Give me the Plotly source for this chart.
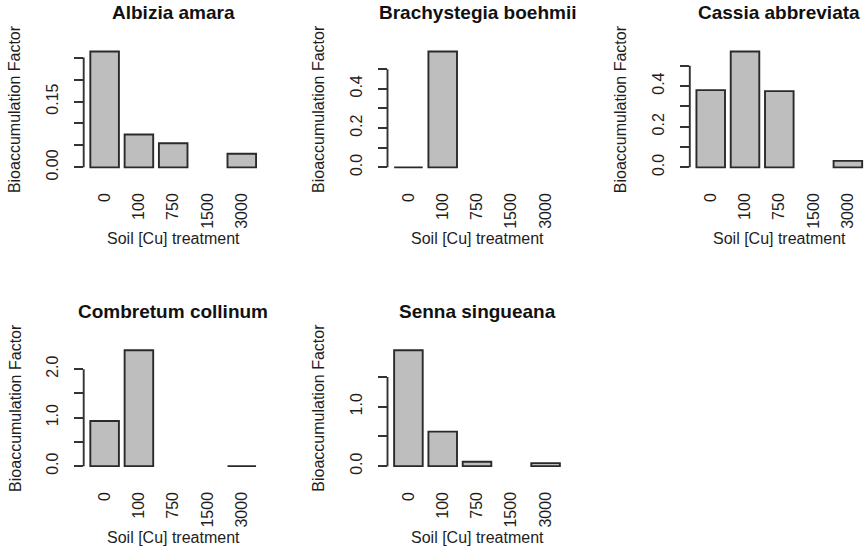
import plotly.graph_objects as go

W, H = 868, 560

# ---------------- data ----------------
treatments = ["0", "100", "750", "1500", "3000"]
species = ["Albizia amara", "Brachystegia boehmii", "Cassia abbreviata",
           "Combretum collinum", "Senna singueana"]

albizia = [0.264, 0.075, 0.055, None, 0.031]
brachystegia = [0.0, 0.59, None, None, None]
cassia = [0.38, 0.57, 0.375, None, 0.032]
combretum = [0.93, 2.39, None, None, 0.0]
senna = [1.95, 0.58, 0.073, None, 0.05]

tick_vals_albizia = [0, 0.05, 0.10, 0.15, 0.20, 0.25]
tick_text_albizia = ["0.00", "", "", "0.15", "", ""]
tick_vals_brachystegia = [0, 0.1, 0.2, 0.3, 0.4, 0.5]
tick_text_brachystegia = ["0.0", "", "0.2", "", "0.4", ""]
tick_vals_cassia = [0, 0.1, 0.2, 0.3, 0.4, 0.5]
tick_text_cassia = ["0.0", "", "0.2", "", "0.4", ""]
tick_vals_combretum = [0, 0.5, 1.0, 1.5, 2.0]
tick_text_combretum = ["0.0", "", "1.0", "", "2.0"]
tick_vals_senna = [0, 0.5, 1.0, 1.5]
tick_text_senna = ["0.0", "", "1.0", ""]

values = [albizia, brachystegia, cassia, combretum, senna]
tick_vals = [tick_vals_albizia, tick_vals_brachystegia, tick_vals_cassia,
             tick_vals_combretum, tick_vals_senna]
tick_texts = [tick_text_albizia, tick_text_brachystegia, tick_text_cassia,
              tick_text_combretum, tick_text_senna]

x_title = "Soil [Cu] treatment"
y_title = "Bioaccumulation Factor"

# ---------------- layout geometry (pixels) ----------------
panel_left = [83.7, 387.5, 689.8, 83.7, 387.5]
panel_width = 179.0
row_top = [47.5, 350.6]
panel_row = [0, 0, 0, 1, 1]
panel_height = 127.0

FONT = "Liberation Sans, Arial, sans-serif"
BAR_FILL = "#BEBEBE"
EDGE = "#2a2a2a"
AX = "#333333"
TXT = "#1e1e1e"

fig = go.Figure()
layout = dict(
    width=W, height=H,
    margin=dict(l=0, r=0, t=0, b=0),
    paper_bgcolor="white", plot_bgcolor="white",
    showlegend=False,
    bargap=1 - 1 / 1.2,
    font=dict(family=FONT, size=16, color=TXT),
)
shapes = []
annotations = []


def px_x(p):
    return p / W


def px_y(p):
    return 1 - p / H


for i, (name, vals) in enumerate(zip(species, values)):
    n = i + 1
    xa = "x" if n == 1 else f"x{n}"
    ya = "y" if n == 1 else f"y{n}"
    left = panel_left[i]
    right = left + panel_width
    top = row_top[panel_row[i]]
    bottom = top + panel_height

    pitch = panel_width / 5.22
    x_lo, x_hi = -0.61, 4.61
    if right > W:
        x_hi -= (right - W) / pitch
        right = W

    vmax = max(v for v in vals if v is not None)
    y_range = [-0.04 * vmax, 1.04 * vmax]

    # zero-height bars are drawn as a flat outline, as R does
    shown = [None if v is None else (v if v != 0 else vmax * 1e-6) for v in vals]

    fig.add_trace(go.Bar(
        x=treatments, y=shown, xaxis=xa, yaxis=ya,
        marker=dict(color=BAR_FILL, line=dict(color=EDGE, width=1.9)),
        hoverinfo="skip",
    ))

    layout["xaxis" if n == 1 else f"xaxis{n}"] = dict(
        domain=[px_x(left), px_x(right)], anchor=ya,
        type="category", range=[x_lo, x_hi],
        showline=False, showgrid=False, zeroline=False, ticks="",
        tickangle=-90, tickfont=dict(size=16, color=TXT, family=FONT),
        ticklabelstandoff=17, fixedrange=True,
    )
    layout["yaxis" if n == 1 else f"yaxis{n}"] = dict(
        domain=[px_y(bottom), px_y(top)], anchor=xa,
        range=y_range, showline=False, showgrid=False, zeroline=False,
        tickmode="array", tickvals=tick_vals[i], ticktext=tick_texts[i],
        ticks="outside", ticklen=9, tickwidth=1.8, tickcolor=AX,
        tickangle=-90, tickfont=dict(size=16, color=TXT, family=FONT),
        ticklabelstandoff=9, fixedrange=True,
    )

    # y axis line spanning first to last tick (R style)
    shapes.append(dict(
        type="line", xref=f"{xa} domain", yref=ya,
        x0=0, x1=0, y0=tick_vals[i][0], y1=tick_vals[i][-1],
        line=dict(color=AX, width=1.9),
    ))

    cx = left + panel_width / 2
    annotations.append(dict(
        text=f"<b>{name}</b>", xref="paper", yref="paper",
        x=px_x(cx), y=px_y(top - 34.5), xanchor="center", yanchor="middle",
        showarrow=False, font=dict(size=19, color="#111111", family=FONT),
    ))
    annotations.append(dict(
        text=x_title, xref="paper", yref="paper",
        x=px_x(cx), y=px_y(bottom + 67.5), xanchor="center", yanchor="middle",
        showarrow=False, font=dict(size=16, color=TXT, family=FONT),
    ))
    annotations.append(dict(
        text=y_title, xref="paper", yref="paper",
        x=px_x(left - 69), y=px_y((top + bottom) / 2), xanchor="center",
        yanchor="middle", textangle=-90,
        showarrow=False, font=dict(size=16, color=TXT, family=FONT),
    ))

layout["shapes"] = shapes
layout["annotations"] = annotations
fig.update_layout(**layout)
fig.write_html(
    "out.html",
    config={"displayModeBar": False},
    post_script="document.body.style.margin='0';document.body.style.overflow='hidden';",
)
